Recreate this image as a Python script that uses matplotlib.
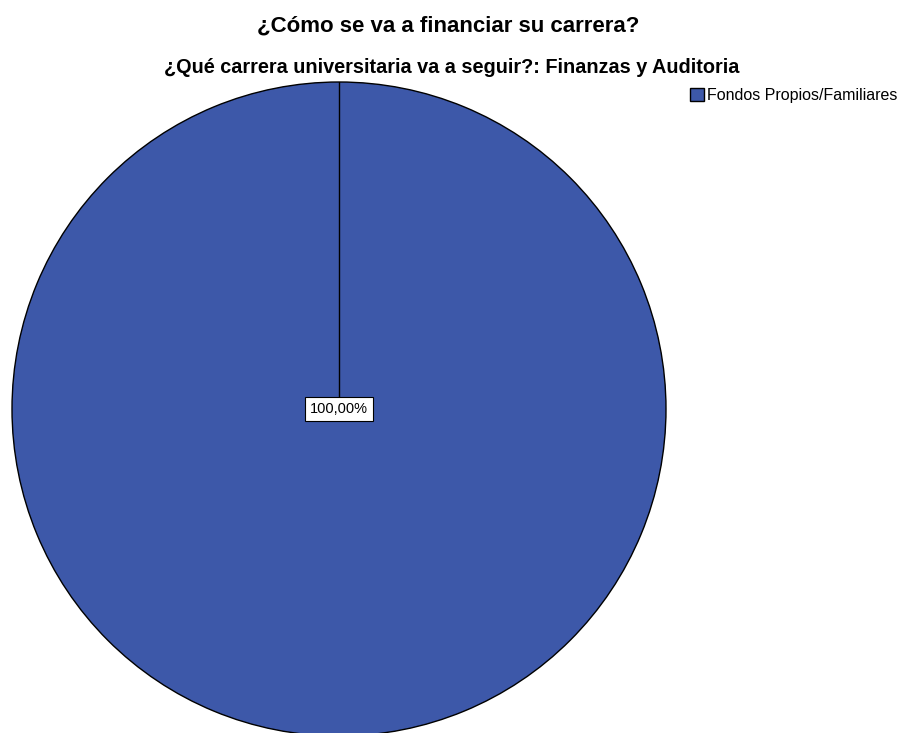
import matplotlib.pyplot as plt

# data
categorias = ['Fondos Propios/Familiares']
porcentajes = [100.0]
colores = ['#3d58a9']

titulo = '¿Cómo se va a financiar su carrera?'
subtitulo = '¿Qué carrera universitaria va a seguir?: Finanzas y Auditoria'


def etiqueta(p):
    return f'{p:.2f}%'.replace('.', ',')


def plot_pie():
    plt.rcParams['font.family'] = ['Liberation Sans', 'DejaVu Sans']
    fig = plt.figure(figsize=(9.04, 7.33), dpi=100)
    W, H = 904, 733
    cx, cy, r = 339, 409, 327
    ax = fig.add_axes([(cx - r) / W, (H - cy - r) / H, 2 * r / W, 2 * r / H])

    wedges, _ = ax.pie(porcentajes, colors=colores, startangle=90, counterclock=False,
                       radius=1, wedgeprops=dict(edgecolor='black', linewidth=1))
    # line from the center to the start of the slice
    w = wedges[0]
    ax.plot([w.center[0], w.center[0]], [w.center[1], w.center[1] + w.r], color='black', lw=1)

    ax.text(0, 0, etiqueta(porcentajes[0]), ha='center', va='center', fontsize=10.5,
            bbox=dict(boxstyle='square,pad=0.35', facecolor='white', edgecolor='black', lw=0.8))
    ax.set_xlim(-1, 1)
    ax.set_ylim(-1, 1)
    ax.axis('off')

    fig.text(448 / W, 1 - 32 / H, titulo, ha='center', va='baseline', fontsize=16, fontweight='bold')
    fig.text(452 / W, 1 - 73 / H, subtitulo, ha='center', va='baseline', fontsize=14.3, fontweight='bold')

    fig.legend(wedges, categorias, loc='upper left', bbox_to_anchor=(690 / W, 1 - 88 / H),
               frameon=False, fontsize=11.5, handlelength=0.85, handleheight=0.85,
               handletextpad=0.2, borderaxespad=0, borderpad=0)

    fig.savefig('out.png', dpi=100)


if __name__ == '__main__':
    plot_pie()
